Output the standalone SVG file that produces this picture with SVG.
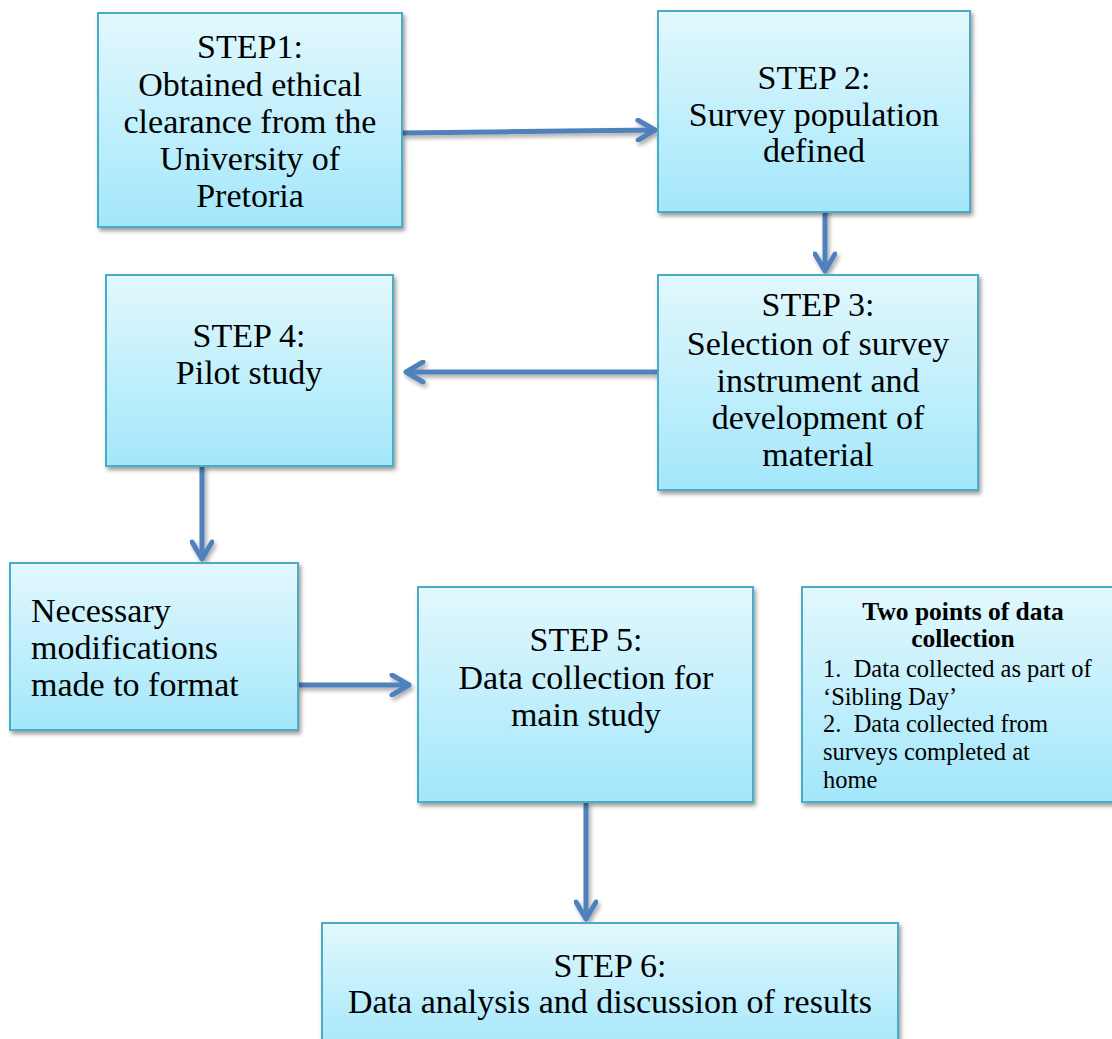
<svg xmlns="http://www.w3.org/2000/svg" width="1112" height="1039" viewBox="0 0 1112 1039">
<style>
.box{fill:url(#g);stroke:#4bacc6;stroke-width:2;filter:url(#sh)}
.t{font-family:"Liberation Serif",serif;font-size:34px;fill:#000;text-anchor:middle}
.l{text-anchor:start}
.s{font-family:"Liberation Serif",serif;font-size:24.5px;fill:#000;white-space:pre}
.b{font-weight:bold;text-anchor:middle;font-size:25.5px}
.c{fill:none;stroke:#4f81bd;stroke-width:5;marker-end:url(#ah)}
</style>
<defs>
<linearGradient id="g" x1="0" y1="0" x2="0" y2="1">
<stop offset="0" stop-color="#e2f8fd"/>
<stop offset="1" stop-color="#a3e7fb"/>
</linearGradient>
<filter id="sh" x="-10%" y="-10%" width="130%" height="130%">
<feGaussianBlur in="SourceAlpha" stdDeviation="2"/>
<feOffset dx="2" dy="3" result="o"/>
<feComponentTransfer><feFuncA type="linear" slope="0.4"/></feComponentTransfer>
<feMerge><feMergeNode/><feMergeNode in="SourceGraphic"/></feMerge>
</filter>
<filter id="csh" filterUnits="userSpaceOnUse" x="0" y="0" width="1112" height="1039">
<feGaussianBlur in="SourceAlpha" stdDeviation="2"/>
<feOffset dx="2" dy="3" result="o"/>
<feComponentTransfer><feFuncA type="linear" slope="0.35"/></feComponentTransfer>
<feMerge><feMergeNode/><feMergeNode in="SourceGraphic"/></feMerge>
</filter>
<marker id="ah" viewBox="0 0 24 24" refX="21" refY="12" markerWidth="24" markerHeight="24" markerUnits="userSpaceOnUse" orient="auto">
<path d="M4,2 L21,12 L4,22" fill="none" stroke="#4f81bd" stroke-width="5" stroke-linecap="round" stroke-linejoin="round"/>
</marker>
</defs>
<g id="connectors" filter="url(#csh)">
<line class="c" x1="402" y1="133" x2="655" y2="130"/>
<line class="c" x1="825" y1="205" x2="825" y2="271"/>
<line class="c" x1="658" y1="372" x2="406" y2="372"/>
<line class="c" x1="202" y1="466" x2="202" y2="559"/>
<line class="c" x1="298" y1="685" x2="409" y2="685"/>
<line class="c" x1="586" y1="802" x2="586" y2="919"/>
</g>
<g id="step1">
<rect class="box" x="98" y="13" width="304" height="214"/>
<text class="t"><tspan x="250" y="58">STEP1:</tspan><tspan x="250" y="96">Obtained ethical</tspan><tspan x="250" y="133">clearance from the</tspan><tspan x="250" y="170">University of</tspan><tspan x="250" y="207">Pretoria</tspan></text>
</g>
<g id="step2">
<rect class="box" x="658" y="11" width="312" height="201"/>
<text class="t"><tspan x="814" y="89">STEP 2:</tspan><tspan x="814" y="126">Survey population</tspan><tspan x="814" y="162">defined</tspan></text>
</g>
<g id="step3">
<rect class="box" x="658" y="275" width="320" height="215"/>
<text class="t"><tspan x="818" y="316">STEP 3:</tspan><tspan x="818" y="355">Selection of survey</tspan><tspan x="818" y="392">instrument and</tspan><tspan x="818" y="429">development of</tspan><tspan x="818" y="466">material</tspan></text>
</g>
<g id="step4">
<rect class="box" x="106" y="275" width="287" height="191"/>
<text class="t"><tspan x="249" y="347">STEP 4:</tspan><tspan x="249" y="384">Pilot study</tspan></text>
</g>
<g id="modifications">
<rect class="box" x="10" y="563" width="288" height="167"/>
<text class="t l"><tspan x="31" y="622">Necessary</tspan><tspan x="31" y="659">modifications</tspan><tspan x="31" y="696">made to format</tspan></text>
</g>
<g id="step5">
<rect class="box" x="418" y="587" width="335" height="215"/>
<text class="t"><tspan x="586" y="651">STEP 5:</tspan><tspan x="586" y="689">Data collection for</tspan><tspan x="586" y="726">main study</tspan></text>
</g>
<g id="datapoints">
<rect class="box" x="802" y="587" width="314" height="215"/>
<text class="s b"><tspan x="963" y="620">Two points of data</tspan><tspan x="963" y="647">collection</tspan></text>
<text class="s"><tspan x="823" y="677">1.  Data collected as part of</tspan><tspan x="823" y="705">‘Sibling Day’</tspan><tspan x="823" y="732">2.  Data collected from</tspan><tspan x="823" y="760">surveys completed at</tspan><tspan x="823" y="788">home</tspan></text>
</g>
<g id="step6">
<rect class="box" x="322" y="923" width="576" height="130"/>
<text class="t"><tspan x="610" y="977">STEP 6:</tspan><tspan x="610" y="1013">Data analysis and discussion of results</tspan></text>
</g>
</svg>
